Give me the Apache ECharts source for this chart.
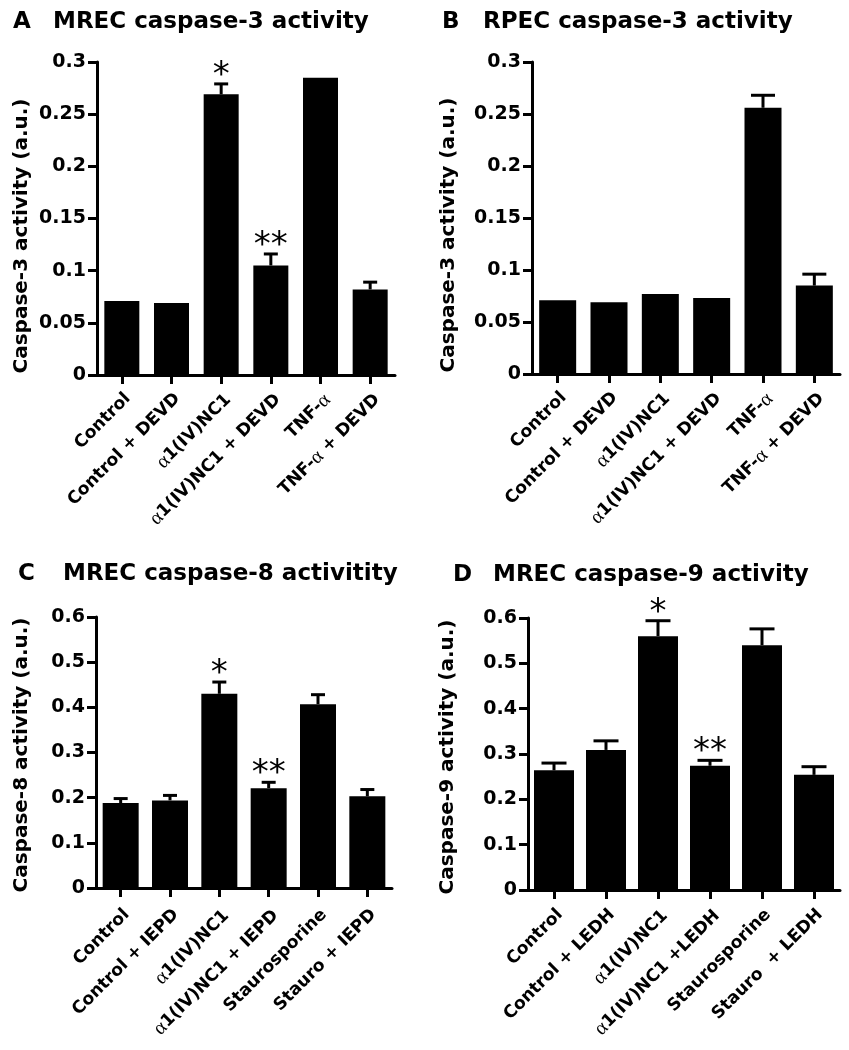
<!DOCTYPE html>
<html>
<head>
<meta charset="utf-8">
<script src="https://cdn.jsdelivr.net/npm/echarts@6/dist/echarts.min.js"></script>
<style>
html,body{margin:0;padding:0;background:#fff;}
#chart{width:849px;height:1050px;}
</style>
</head>
<body>
<div id="chart"></div>
<script>
// ---- Data ----
const catsA = ['Control', 'Control + DEVD', 'α1(IV)NC1', 'α1(IV)NC1 + DEVD', 'TNF-α', 'TNF-α + DEVD'];
const valsA = [0.071, 0.069, 0.269, 0.105, 0.285, 0.082];
const errsA = [0, 0, 0.010, 0.011, 0, 0.007];
const starsA = ['', '', '*', '**', '', ''];

const catsB = ['Control', 'Control + DEVD', 'α1(IV)NC1', 'α1(IV)NC1 + DEVD', 'TNF-α', 'TNF-α + DEVD'];
const valsB = [0.071, 0.069, 0.077, 0.073, 0.256, 0.085];
const errsB = [0, 0, 0, 0, 0.012, 0.011];
const starsB = ['', '', '', '', '', ''];

const catsC = ['Control', 'Control + IEPD', 'α1(IV)NC1', 'α1(IV)NC1 + IEPD', 'Staurosporine', 'Stauro + IEPD'];
const valsC = [0.188, 0.194, 0.430, 0.221, 0.407, 0.203];
const errsC = [0.010, 0.011, 0.026, 0.013, 0.021, 0.015];
const starsC = ['', '', '*', '**', '', ''];

const catsD = ['Control', 'Control + LEDH', 'α1(IV)NC1', 'α1(IV)NC1 +LEDH', 'Staurosporine', 'Stauro  + LEDH'];
const valsD = [0.264, 0.309, 0.560, 0.274, 0.540, 0.254];
const errsD = [0.016, 0.020, 0.034, 0.012, 0.036, 0.018];
const starsD = ['', '', '*', '**', '', ''];

const titlesLetters = ['A', 'B', 'C', 'D'];
const titlesText = ['MREC caspase-3 activity', 'RPEC caspase-3 activity', 'MREC caspase-8 activitity', 'MREC caspase-9 activity'];
const yNames = ['Caspase-3 activity (a.u.)', 'Caspase-3 activity (a.u.)', 'Caspase-8 activity (a.u.)', 'Caspase-9 activity (a.u.)'];
const yMaxes = [0.3, 0.3, 0.6, 0.6];
const yIntervals = [0.05, 0.05, 0.1, 0.1];

// ---- Layout / style ----
const FONT = 'DejaVu Sans';
const panels = [
  {cats: catsA, vals: valsA, errs: errsA, stars: starsA, grid: {left: 97, top: 62, width: 298, height: 313}, barW: 35, capW: 14, lm: 15,
   letter: [13, 11], title: [53, 11], yname: [22, 236]},
  {cats: catsB, vals: valsB, errs: errsB, stars: starsB, grid: {left: 532, top: 62, width: 308, height: 312}, barW: 37, capW: 24, lm: 15,
   letter: [442, 11], title: [483, 11], yname: [449, 235]},
  {cats: catsC, vals: valsC, errs: errsC, stars: starsC, grid: {left: 96, top: 617, width: 296, height: 271}, barW: 36, capW: 14, lm: 18,
   letter: [18, 563], title: [63, 563], yname: [22, 755]},
  {cats: catsD, vals: valsD, errs: errsD, stars: starsD, grid: {left: 528, top: 618, width: 312, height: 272}, barW: 40, capW: 25, lm: 16,
   letter: [453, 564], title: [493, 564], yname: [448, 757]}
];

const grids = [], xAxes = [], yAxes = [], series = [], titles = [], graphics = [];

panels.forEach((p, i) => {
  grids.push(Object.assign({containLabel: false}, p.grid));
  xAxes.push({
    type: 'category', gridIndex: i, data: p.cats, boundaryGap: true,
    axisLine: {show: true, lineStyle: {color: '#000', width: 3}},
    axisTick: {show: true, alignWithLabel: true, length: 9, lineStyle: {color: '#000', width: 3}},
    axisLabel: {
      interval: 0, rotate: 45, margin: p.lm, align: 'right', verticalAlign: 'top',
      color: '#000', fontFamily: FONT, fontWeight: 'bold', fontSize: 17.2,
      formatter: s => s.replace(/α/g, '{g|α}'),
      rich: {g: {fontFamily: 'Liberation Serif', fontWeight: 'normal', fontSize: 20, color: '#000'}}
    },
    splitLine: {show: false}
  });
  yAxes.push({
    type: 'value', gridIndex: i, min: 0, max: yMaxes[i], interval: yIntervals[i],
    axisLine: {show: true, lineStyle: {color: '#000', width: 3}},
    axisTick: {show: true, length: 9, lineStyle: {color: '#000', width: 3}},
    axisLabel: {color: '#000', fontFamily: FONT, fontWeight: 'bold', fontSize: 19, margin: 11},
    splitLine: {show: false}
  });
  series.push({
    type: 'bar', xAxisIndex: i, yAxisIndex: i, data: p.vals, barWidth: p.barW,
    itemStyle: {color: '#000'}, silent: true, animation: false
  });
  const stars = p.stars, capW = p.capW;
  series.push({
    type: 'custom', xAxisIndex: i, yAxisIndex: i, animation: false, silent: true,
    data: p.vals.map((v, k) => [k, v, p.errs[k]]),
    encode: {x: 0, y: 1},
    renderItem: (params, api) => {
      const k = api.value(0), v = api.value(1), e = api.value(2);
      const base = api.coord([k, v]);
      const top = api.coord([k, v + e]);
      const children = [];
      if (e > 0) {
        children.push({type: 'line', shape: {x1: base[0], y1: base[1], x2: top[0], y2: top[1]}, style: {stroke: '#000', lineWidth: 3}});
        children.push({type: 'line', shape: {x1: top[0] - capW / 2, y1: top[1], x2: top[0] + capW / 2, y2: top[1]}, style: {stroke: '#000', lineWidth: 3}});
      }
      const s = stars[params.dataIndex];
      if (s) {
        children.push({type: 'text', x: top[0], y: top[1] - 8,
          style: {text: s, fill: '#000', font: 'normal 34px "DejaVu Sans"', align: 'center', verticalAlign: 'middle',
                  textAlign: 'center', textVerticalAlign: 'middle'}});
      }
      return {type: 'group', children: children};
    }
  });
  titles.push({text: titlesLetters[i], left: p.letter[0], top: p.letter[1], padding: 0,
    textStyle: {fontFamily: FONT, fontWeight: 'bold', fontSize: 23, color: '#000'}});
  titles.push({text: titlesText[i], left: p.title[0], top: p.title[1], padding: 0,
    textStyle: {fontFamily: FONT, fontWeight: 'bold', fontSize: 23, color: '#000'}});
  graphics.push({type: 'text', x: p.yname[0], y: p.yname[1], rotation: Math.PI / 2,
    style: {text: yNames[i], fill: '#000', font: 'bold 20px "DejaVu Sans"', align: 'center', verticalAlign: 'middle',
            textAlign: 'center', textVerticalAlign: 'middle'}});
});

const chart = echarts.init(document.getElementById('chart'), null, {renderer: 'canvas'});
chart.setOption({
  backgroundColor: '#fff',
  animation: false,
  title: titles,
  grid: grids,
  xAxis: xAxes,
  yAxis: yAxes,
  series: series,
  graphic: graphics
});
</script>
</body>
</html>
